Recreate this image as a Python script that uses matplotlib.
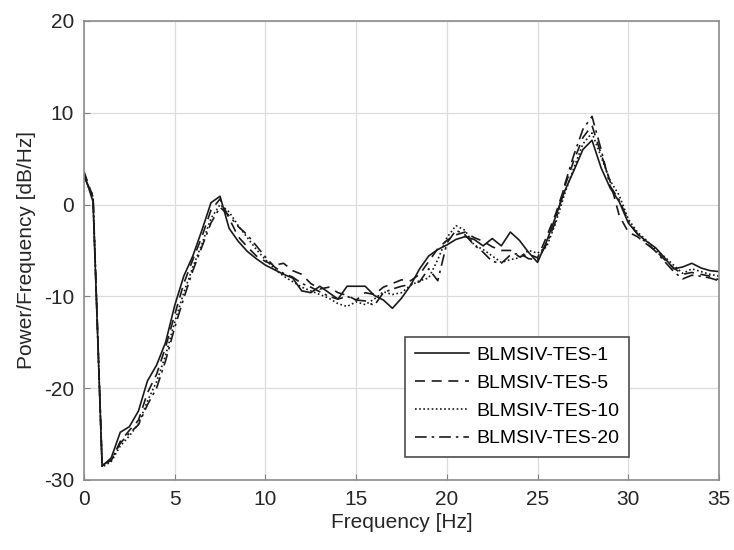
import matplotlib.pyplot as plt
import numpy as np

plt.rcParams['font.family'] = ['Liberation Sans', 'DejaVu Sans']
plt.rcParams['axes.unicode_minus'] = False

# frequency grid of the PSD estimate (0.5 Hz bins)
freq = np.arange(0, 35.5, 0.5)

tes1 = [3.4, 0.3, -28.5, -27.6, -24.8, -24.2, -22.5, -19.2, -17.5, -15.0,
        -11.0, -7.8, -5.6, -2.8, 0.2, 0.9, -2.6, -4.0, -5.1, -5.9,
        -6.6, -7.1, -7.6, -8.0, -9.4, -9.6, -8.9, -9.6, -10.3, -8.9,
        -8.9, -8.9, -9.9, -10.4, -11.3, -10.2, -8.8, -7.0, -5.6, -4.9,
        -4.4, -3.8, -3.5, -3.8, -4.5, -3.7, -4.5, -3.0, -3.9, -5.2,
        -6.3, -4.0, -1.3, 1.5, 3.7, 6.0, 7.0, 4.0, 1.8, 0.3,
        -2.0, -3.2, -4.0, -4.7, -5.8, -7.0, -6.8, -6.4, -6.9, -7.2, -7.3]
tes5 = [3.6, 0.8, -28.3, -27.9, -25.8, -24.6, -23.5, -20.5, -18.5, -15.5,
        -12.0, -8.6, -6.0, -3.5, -0.6, 0.6, -1.5, -3.5, -4.6, -5.6,
        -6.2, -6.6, -6.4, -7.2, -7.6, -8.6, -9.2, -9.0, -9.6, -9.9,
        -10.4, -9.6, -9.8, -9.0, -8.6, -8.2, -8.3, -7.6, -6.2, -4.8,
        -3.9, -3.3, -3.0, -3.6, -4.0, -4.6, -5.0, -5.0, -5.7, -5.4,
        -5.8, -3.5, -1.0, 2.0, 4.8, 7.3, 8.6, 5.5, 2.5, -1.2,
        -3.0, -3.5, -4.3, -5.0, -6.0, -6.9, -7.6, -7.4, -7.6, -7.8, -8.2]
tes10 = [3.2, 0.6, -28.6, -28.0, -26.3, -25.2, -23.9, -21.4, -19.3, -16.4,
         -12.8, -9.6, -6.8, -4.3, -1.5, 0.0, -0.8, -2.3, -3.6, -4.9,
         -6.0, -7.0, -7.8, -8.4, -9.0, -9.4, -9.8, -10.2, -10.8, -11.1,
         -10.6, -10.9, -10.3, -9.5, -9.8, -9.6, -8.8, -8.3, -8.0, -6.0,
         -3.6, -2.3, -2.8, -4.4, -4.9, -5.6, -6.3, -6.0, -5.8, -5.0,
         -5.3, -4.6, -2.0, 1.2, 4.0, 6.6, 7.8, 5.2, 2.6, 1.0,
         -1.6, -3.0, -3.9, -4.9, -5.7, -6.6, -7.5, -7.0, -7.3, -7.6, -7.8]
tes20 = [3.0, 1.0, -28.4, -27.8, -26.0, -24.9, -24.0, -21.8, -20.0, -17.0,
         -13.4, -10.2, -7.2, -4.6, -2.0, -0.3, -1.2, -2.4, -3.3, -4.5,
         -5.7, -6.8, -7.5, -7.9, -8.6, -9.0, -9.5, -10.0, -10.3, -10.0,
         -10.4, -10.5, -11.0, -9.6, -9.2, -8.9, -8.7, -8.4, -7.0, -8.3,
         -4.2, -2.8, -3.3, -4.4, -5.2, -6.2, -6.4, -5.5, -5.3, -5.9,
         -6.0, -4.3, -1.8, 2.2, 5.4, 8.2, 9.6, 6.0, 2.0, 0.5,
         -1.8, -3.2, -4.2, -5.1, -6.2, -7.3, -8.1, -7.7, -7.8, -8.0, -8.3]

labels = ['BLMSIV-TES-1', 'BLMSIV-TES-5', 'BLMSIV-TES-10', 'BLMSIV-TES-20']
styles = ['-', (0, (6, 4)), (0, (1, 1.5)), (0, (7, 3, 1.5, 3))]

fig = plt.figure(figsize=(7.34, 5.5), dpi=100)
ax = fig.add_axes([0.1144, 0.1273, 0.8652, 0.8347])

for y, lab, ls in zip([tes1, tes5, tes10, tes20], labels, styles):
    ax.plot(freq, y, color='#1a1a1a', linestyle=ls, linewidth=1.2, label=lab)

ax.set_xlim(0, 35)
ax.set_ylim(-30, 20)
ax.set_xticks(range(0, 36, 5))
ax.set_yticks(range(-30, 21, 10))
ax.grid(True, color='#dcdcdc', linewidth=0.9)
ax.set_axisbelow(True)
ax.tick_params(direction='in', length=4, colors='#808080', labelcolor='#262626',
               labelsize=15, pad=7)
for s in ax.spines.values():
    s.set_color('#8c8c8c')
    s.set_linewidth(1.2)

ax.set_xlabel('Frequency [Hz]', fontsize=15, color='#262626', labelpad=3)
ax.set_ylabel('Power/Frequency [dB/Hz]', fontsize=15, color='#262626', labelpad=6)

leg = ax.legend(loc='lower right', bbox_to_anchor=(0.858, 0.05), fontsize=14,
                fancybox=False, framealpha=1, edgecolor='#4d4d4d',
                handlelength=2.8, handletextpad=0.35, labelspacing=0.52,
                borderpad=0.5, borderaxespad=0)
leg.get_frame().set_linewidth(1.2)

fig.savefig('out.png', dpi=100)
